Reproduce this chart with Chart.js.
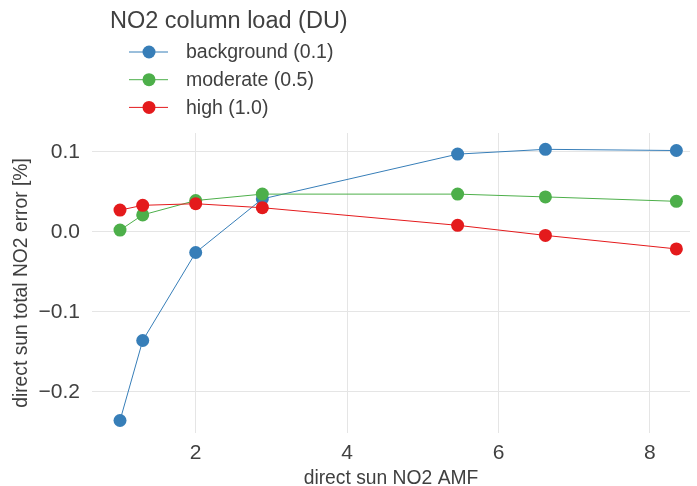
<!DOCTYPE html>
<html>
<head>
<meta charset="utf-8">
<script src="https://cdn.jsdelivr.net/npm/chart.js@4/dist/chart.umd.min.js"></script>
<style>
  html, body { margin: 0; padding: 0; background: #fff; }
  canvas { display: block; }
</style>
</head>
<body>
<canvas id="chart-amf" width="697" height="486"></canvas>
<script>
// ─── direct sun NO2 error vs AMF ─────────────────────────────────────────────

const AMF = [1.0, 1.3, 2.0, 2.88, 5.46, 6.62, 8.35];

const BACKGROUND = [-0.236, -0.136, -0.026, 0.041, 0.097, 0.103, 0.1015];
const MODERATE   = [0.002, 0.021, 0.039, 0.047, 0.047, 0.0435, 0.038];
const HIGH       = [0.027, 0.033, 0.035, 0.030, 0.008, -0.0046, -0.0215];

const SERIES_LABELS = ['background (0.1)', 'moderate (0.5)', 'high (1.0)'];
const LEGEND_TITLE  = 'NO2 column load (DU)';

const X_TICKS = [2, 4, 6, 8];
const Y_TICKS = [-0.2, -0.1, 0, 0.1];

const C = {
  blue:  '#377eb8',
  green: '#4daf4a',
  red:   '#e41a1c',
  text:  '#404040',
  grid:  '#e5e5e5',
};

const FONT = 'Liberation Sans, Arial, sans-serif';

function seriesDS(label, values, color, order) {
  return {
    label,
    data: AMF.map((x, i) => ({ x, y: values[i] })),
    showLine: true,
    borderColor: color,
    backgroundColor: color,
    borderWidth: 1,
    pointRadius: 6.5,
    pointBorderWidth: 0,
    pointHoverRadius: 6.5,
    tension: 0,
    order,
  };
}

// legend drawn by hand: title on top, short line + dot per series
const legendPlugin = {
  id: 'amfLegend',
  afterDraw(chart) {
    const ctx = chart.ctx;
    ctx.save();
    ctx.fillStyle = C.text;
    ctx.font = `23.5px ${FONT}`;
    ctx.textAlign = 'left';
    ctx.textBaseline = 'alphabetic';
    ctx.fillText(LEGEND_TITLE, 110, 28);

    ctx.font = `19.5px ${FONT}`;
    ctx.textBaseline = 'middle';
    chart.data.datasets.forEach((ds, i) => {
      const y = 52 + i * 27.7;
      ctx.strokeStyle = ds.borderColor;
      ctx.lineWidth = 1;
      ctx.beginPath();
      ctx.moveTo(129, y);
      ctx.lineTo(168, y);
      ctx.stroke();
      ctx.fillStyle = ds.backgroundColor;
      ctx.beginPath();
      ctx.arc(149, y, 6.5, 0, Math.PI * 2);
      ctx.fill();
      ctx.fillStyle = C.text;
      ctx.fillText(ds.label, 186, y + 1);
    });
    ctx.restore();
  },
};

const fmtTick = v => (Math.abs(v) < 1e-9 ? '0.0' : v.toFixed(1)).replace('-', '\u2212');

new Chart(document.getElementById('chart-amf').getContext('2d'), {
  type: 'scatter',
  data: {
    datasets: [
      seriesDS(SERIES_LABELS[0], BACKGROUND, C.blue, 3),
      seriesDS(SERIES_LABELS[1], MODERATE,   C.green, 2),
      seriesDS(SERIES_LABELS[2], HIGH,       C.red, 1),
    ],
  },
  options: {
    responsive: false, animation: false,
    layout: { padding: { top: 133, right: 7, left: 0, bottom: 0 } },
    plugins: { legend: { display: false }, tooltip: { enabled: false } },
    scales: {
      x: {
        type: 'linear', min: 0.63, max: 8.53,
        afterBuildTicks: s => { s.ticks = X_TICKS.map(value => ({ value })); },
        afterFit: s => { s.height = 53; },
        border: { display: false },
        grid: { color: C.grid, lineWidth: 1, drawTicks: false },
        ticks: { color: C.text, padding: 8, font: { family: FONT, size: 21 }, callback: v => String(v) },
        title: { display: true, text: 'direct sun NO2 AMF', color: C.text, padding: 0,
                 font: { family: FONT, size: 19.3, lineHeight: '14px' } },
      },
      y: {
        type: 'linear', min: -0.2516, max: 0.1234,
        afterBuildTicks: s => { s.ticks = Y_TICKS.map(value => ({ value })); },
        afterFit: s => { s.width = 92; },
        border: { display: false },
        grid: { color: C.grid, lineWidth: 1, drawTicks: false },
        ticks: { color: C.text, padding: 12, font: { family: FONT, size: 21 }, callback: fmtTick },
        title: { display: true, text: 'direct sun total NO2 error [%]', color: C.text,
                 padding: { top: 15, bottom: 0 },
                 font: { family: FONT, size: 19.3, lineHeight: '14px' } },
      },
    },
  },
  plugins: [legendPlugin],
});
</script>
</body>
</html>
